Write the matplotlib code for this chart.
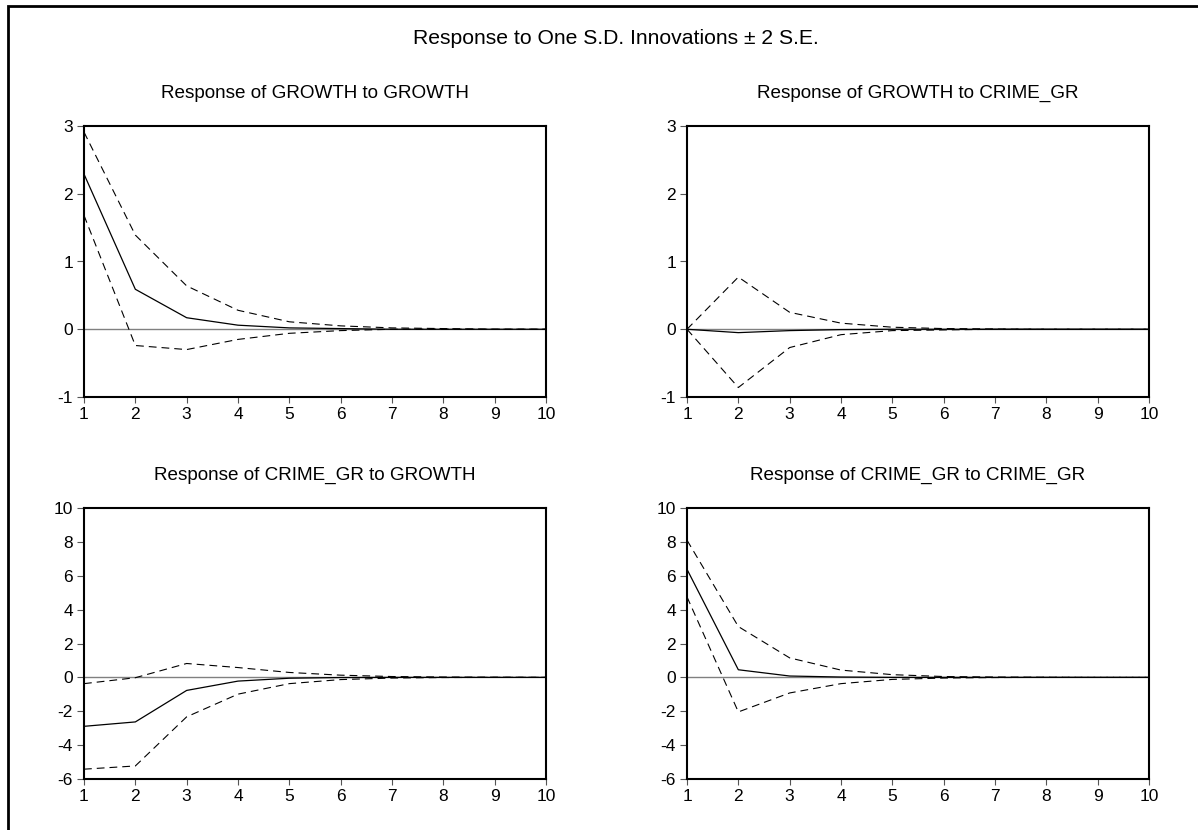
import matplotlib
matplotlib.use("Agg")
import matplotlib.pyplot as plt
from matplotlib.patches import Rectangle

plt.rcParams['font.family'] = ['Liberation Sans', 'DejaVu Sans']
plt.rcParams['axes.unicode_minus'] = False

periods = list(range(1, 11))

# Response of GROWTH to GROWTH
g_g = [2.29, 0.59, 0.17, 0.06, 0.02, 0.01, 0.0, 0.0, 0.0, 0.0]
g_g_up = [2.91, 1.39, 0.64, 0.28, 0.11, 0.05, 0.02, 0.01, 0.0, 0.0]
g_g_lo = [1.68, -0.24, -0.30, -0.15, -0.06, -0.02, 0.0, 0.0, 0.0, 0.0]

# Response of GROWTH to CRIME_GR
g_c = [0.0, -0.05, -0.02, -0.005, 0.0, 0.0, 0.0, 0.0, 0.0, 0.0]
g_c_up = [0.0, 0.77, 0.25, 0.09, 0.03, 0.01, 0.005, 0.0, 0.0, 0.0]
g_c_lo = [0.0, -0.86, -0.27, -0.08, -0.02, -0.01, 0.0, 0.0, 0.0, 0.0]

# Response of CRIME_GR to GROWTH
c_g = [-2.89, -2.63, -0.77, -0.22, -0.05, -0.01, 0.0, 0.0, 0.0, 0.0]
c_g_up = [-0.37, -0.02, 0.82, 0.58, 0.29, 0.13, 0.05, 0.02, 0.01, 0.0]
c_g_lo = [-5.42, -5.23, -2.33, -0.99, -0.37, -0.13, -0.04, -0.01, 0.0, 0.0]

# Response of CRIME_GR to CRIME_GR
c_c = [6.38, 0.45, 0.08, 0.02, 0.0, 0.0, 0.0, 0.0, 0.0, 0.0]
c_c_up = [8.1, 3.0, 1.15, 0.43, 0.16, 0.05, 0.02, 0.01, 0.0, 0.0]
c_c_lo = [4.75, -2.04, -0.92, -0.37, -0.12, -0.04, -0.01, 0.0, 0.0, 0.0]

W, H = 1198, 830
fig = plt.figure(figsize=(W / 100, H / 100), dpi=100)

# outer frame (only top and left edges visible)
fig.patches.append(Rectangle((8 / W, -0.1), 1.2, 1 - 6 / H + 0.1,
                             transform=fig.transFigure, fill=False,
                             edgecolor='black', linewidth=2.0, clip_on=False))

fig.text(616 / W, 1 - 38 / H, 'Response to One S.D. Innovations \u00b1 2 S.E.',
         ha='center', va='center', fontsize=15.2)

panels = [
    ('Response of GROWTH to GROWTH', g_g, g_g_up, g_g_lo,
     (84, 126), (-1, 3), range(-1, 4)),
    ('Response of GROWTH to CRIME_GR', g_c, g_c_up, g_c_lo,
     (687, 126), (-1, 3), range(-1, 4)),
    ('Response of CRIME_GR to GROWTH', c_g, c_g_up, c_g_lo,
     (84, 508), (-6, 10), range(-6, 11, 2)),
    ('Response of CRIME_GR to CRIME_GR', c_c, c_c_up, c_c_lo,
     (687, 508), (-6, 10), range(-6, 11, 2)),
]

aw, ah = 462, 271
for title, mid, up, lo, (px, py), ylim, yt in panels:
    ax = fig.add_axes([px / W, 1 - (py + ah) / H, aw / W, ah / H])
    ax.axhline(0, color='#808080', linewidth=1.0, zorder=1)
    ax.plot(periods, up, color='black', linewidth=0.8,
            linestyle=(0, (7, 4.5)), zorder=2)
    ax.plot(periods, lo, color='black', linewidth=0.8,
            linestyle=(0, (7, 4.5)), zorder=2)
    ax.plot(periods, mid, color='black', linewidth=0.9, zorder=3)
    ax.set_xlim(1, 10)
    ax.set_ylim(*ylim)
    ax.set_xticks(periods)
    ax.set_yticks(list(yt))
    ax.tick_params(direction='out', length=4, width=0.8, color='#555555',
                   labelsize=12.5, pad=3.5)
    ax.tick_params(axis='y', length=5, pad=3)
    for sp in ax.spines.values():
        sp.set_linewidth(1.5)
    fig.text((px + aw / 2) / W, 1 - (py - 33) / H, title,
             ha='center', va='center', fontsize=13.6)

fig.savefig('out.png', dpi=100)
